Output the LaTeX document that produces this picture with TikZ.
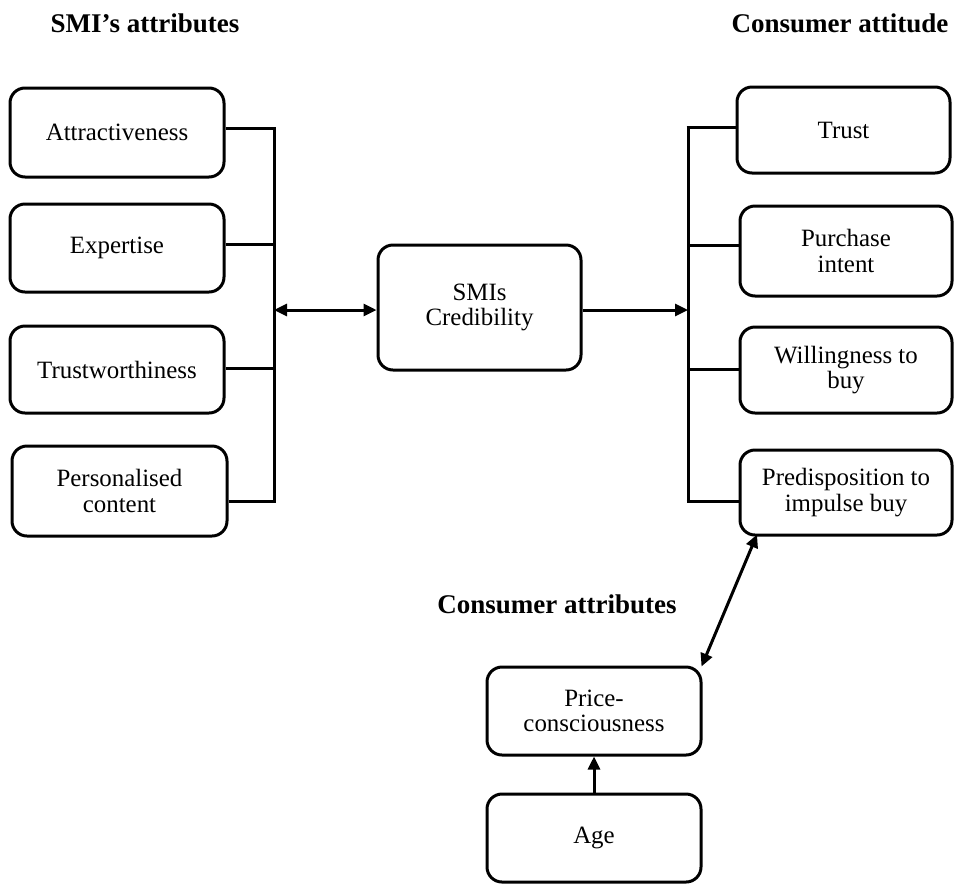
\documentclass[tikz,border=0pt]{standalone}
\usepackage{fontspec}
\setmainfont{Liberation Serif}
\usetikzlibrary{arrows.meta}
\tikzset{
  box/.style={draw, line width=3pt, rounded corners=15pt, inner sep=0pt, align=center,
    font=\fontsize{24.9}{25.5}\selectfont},
  hdr/.style={font=\fontsize{27}{30}\selectfont\bfseries, inner sep=0pt},
  conn/.style={line width=3pt},
  tip/.style={line width=3pt, -{Triangle[length=13pt,width=12pt]}},
  dtip/.style={line width=3pt, {Triangle[length=13pt,width=12pt]}-{Triangle[length=13pt,width=12pt]}}
}
\begin{document}
\begin{tikzpicture}[x=1pt,y=-1pt]
\useasboundingbox (0,0) rectangle (957,884);
% headers
\node[hdr] (h1) at (145,23) {SMI’s attributes};
\node[hdr] (h2) at (840,23) {Consumer attitude};
\node[hdr] (h3) at (557,604) {Consumer attributes};
% left boxes
\node[box, minimum width=214pt, minimum height=89pt] (attr) at (117,132.5) {Attractiveness};
\node[box, minimum width=214pt, minimum height=88pt] (exp) at (117,248) {Expertise};
\node[box, minimum width=214pt, minimum height=87pt] (trw) at (117,369.5) {Trustworthiness};
\node[box, minimum width=215pt, minimum height=90pt] (pers) at (119.5,491) {Personalised\\content};
% centre
\node[box, minimum width=203pt, minimum height=125pt] (cred) at (479.5,307.5) {SMIs\\Credibility};
% right boxes
\node[box, minimum width=213pt, minimum height=86pt] (trust) at (843.5,130) {Trust};
\node[box, minimum width=212pt, minimum height=90pt] (pi) at (846,251) {Purchase\\intent};
\node[box, minimum width=212pt, minimum height=86pt] (wtb) at (846,370) {Willingness to\\buy};
\node[box, minimum width=212pt, minimum height=85pt] (pib) at (846,492.5) {Predisposition to\\impulse buy};
% bottom
\node[box, minimum width=214pt, minimum height=88pt] (price) at (594,711) {Price-\\consciousness};
\node[box, minimum width=214pt, minimum height=88pt] (age) at (594,838) {Age};
% left bracket
\coordinate (lt) at (274,128);
\coordinate (lb) at (274,501);
\coordinate (lm) at (274,310);
\draw[conn] (lt) -- (lb);
\draw[conn] (attr.east |- lt) -- ([xshift=1.5pt]lt);
\draw[conn] (exp.east |- 0,244) -- (274,244);
\draw[conn] (trw.east |- 0,368) -- (274,368);
\draw[conn] (pers.east |- lb) -- ([xshift=1.5pt]lb);
\draw[dtip] (lm) -- (cred.west |- lm);
% right bracket
\coordinate (rt) at (688,127);
\coordinate (rb) at (688,501);
\coordinate (rm) at (688,310);
\draw[conn] (rt) -- (rb);
\draw[conn] ([xshift=-1.5pt]rt) -- (trust.west |- rt);
\draw[conn] (688,245) -- (pi.west |- 0,245);
\draw[conn] (688,369) -- (wtb.west |- 0,369);
\draw[conn] ([xshift=-1.5pt]rb) -- (pib.west |- rb);
\draw[tip] (cred.east |- rm) -- (rm);
% bottom arrows
\draw[dtip] ([xshift=-89pt,yshift=2pt]pib.south) -- ([xshift=-1pt,yshift=-1pt]price.north east);
\draw[tip] (age.north) -- (price.south);
\end{tikzpicture}
\end{document}
